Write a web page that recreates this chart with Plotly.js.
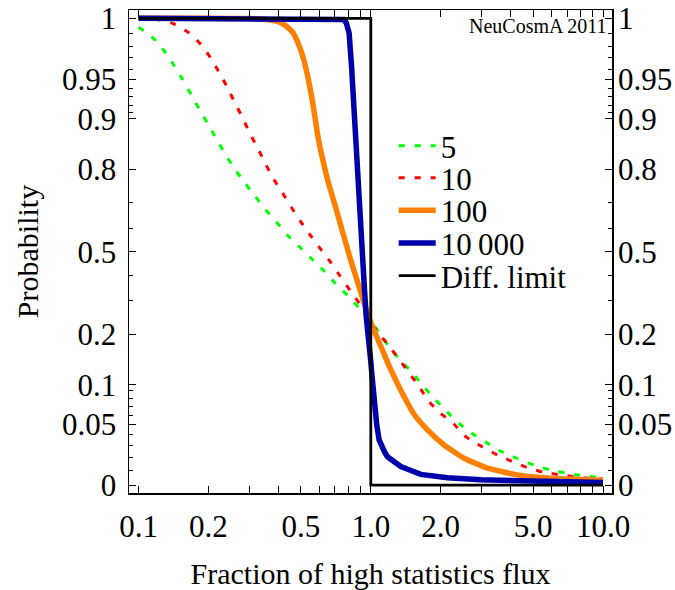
<!DOCTYPE html>
<html>
<head>
<meta charset="utf-8">
<script src="https://cdn.plot.ly/plotly-3.0.1.min.js"></script>
<style>html,body{margin:0;padding:0;background:#fff;}#chart{width:675px;height:590px;}</style>
</head>
<body>
<div id="chart"></div>
<script>
// ---------------- data ----------------
const X_N5 = [0.1, 0.116, 0.129, 0.1415, 0.1546, 0.168, 0.1824, 0.1993, 0.2167, 0.236, 0.258, 0.285, 0.3167, 0.3507, 0.391, 0.4378, 0.491, 0.5516, 0.626, 0.702, 0.794, 0.890, 1.0, 1.1, 1.2, 1.346, 1.512, 1.686, 1.886, 2.124, 2.392, 2.721, 3.135, 3.627, 4.25, 5.05, 5.955, 7.03, 8.28, 10];
const P_N5 = [0.994, 0.986, 0.976, 0.964, 0.950, 0.933, 0.915, 0.890, 0.863, 0.833, 0.803, 0.764, 0.723, 0.676, 0.628, 0.571, 0.523, 0.473, 0.419, 0.367, 0.319, 0.276, 0.235, 0.200, 0.172, 0.144, 0.121, 0.097, 0.079, 0.064, 0.051, 0.041, 0.033, 0.025, 0.019, 0.0138, 0.0103, 0.0080, 0.0062, 0.0048];

const X_N10 = [0.1, 0.12, 0.14, 0.1652, 0.1854, 0.2048, 0.2223, 0.2416, 0.2598, 0.2803, 0.3013, 0.3252, 0.3522, 0.3812, 0.4169, 0.4556, 0.4995, 0.5516, 0.6092, 0.673, 0.7375, 0.8146, 0.890, 1.0, 1.086, 1.199, 1.329, 1.462, 1.614, 1.782, 2.001, 2.284, 2.565, 2.976, 3.511, 4.07, 4.727, 5.57, 6.574, 7.76, 9.15, 10];
const P_N10 = [0.9999, 0.9992, 0.9966, 0.990, 0.9815, 0.9695, 0.957, 0.9407, 0.9229, 0.9016, 0.874, 0.8458, 0.8127, 0.774, 0.7314, 0.6827, 0.6268, 0.5684, 0.5103, 0.453, 0.396, 0.3376, 0.2918, 0.232, 0.201, 0.173, 0.1457, 0.121, 0.097, 0.076, 0.062, 0.0498, 0.0378, 0.0297, 0.0218, 0.0165, 0.012, 0.0087, 0.0069, 0.0053, 0.0044, 0.0041];

const X_N100 = [0.1, 0.2, 0.3, 0.3532, 0.390, 0.4234, 0.4602, 0.491, 0.516, 0.537, 0.561, 0.5756, 0.5929, 0.6197, 0.651, 0.691, 0.7375, 0.7674, 0.7985, 0.820, 0.890, 0.968, 1.017, 1.104, 1.219, 1.346, 1.536, 1.754, 2.068, 2.52, 3.18, 4.28, 5.96, 8.0, 10];
const P_N100 = [1, 1, 0.9998, 0.9992, 0.9982, 0.9958, 0.9907, 0.9806, 0.9671, 0.9513, 0.9245, 0.901, 0.866, 0.824, 0.772, 0.7085, 0.6215, 0.5628, 0.503, 0.4624, 0.353, 0.260, 0.2195, 0.173, 0.127, 0.091, 0.061, 0.0442, 0.0306, 0.0191, 0.0116, 0.0069, 0.0046, 0.0038, 0.0033];

const X_N10000 = [0.1, 0.5, 0.7, 0.765, 0.7845, 0.8065, 0.8266, 0.8424, 0.8557, 0.8663, 0.8817, 0.9031, 0.912, 0.9395, 0.956, 0.9754, 1.0, 1.012, 1.040, 1.061, 1.086, 1.115, 1.149, 1.18, 1.244, 1.346, 1.641, 2.139, 2.976, 5.39, 10];
const P_N10000 = [1, 1, 0.99999, 0.9992, 0.9968, 0.990, 0.962, 0.926, 0.873, 0.830, 0.7085, 0.550, 0.507, 0.340, 0.249, 0.177, 0.142, 0.116, 0.070, 0.0491, 0.035, 0.0284, 0.024, 0.0203, 0.0167, 0.0128, 0.0072, 0.0050, 0.0036, 0.0024, 0.0017];

const X_DIFF = [0.1, 1, 1, 10];
const P_DIFF = [1, 1, 0, 0];

const SERIES_NAMES = ['5', '10', '100', '10\u2009000', 'Diff. limit'];

const X_TICKS = [0.1, 0.2, 0.5, 1, 2, 5, 10];
const X_TICK_LABELS = ['0.1', '0.2', '0.5', '1.0', '2.0', '5.0', '10.0'];
const X_MINOR = [0.3, 0.4, 0.6, 0.7, 0.8, 0.9, 3, 4, 6, 7, 8, 9];

const Y_TICKS = [0, 0.05, 0.1, 0.2, 0.5, 0.8, 0.9, 0.95, 1];
const Y_TICK_LABELS = ['0', '0.05', '0.1', '0.2', '0.5', '0.8', '0.9', '0.95', '1'];
const Y_MINOR = [0.01, 0.02, 0.03, 0.04, 0.06, 0.07, 0.08, 0.09, 0.3, 0.4, 0.6, 0.7, 0.91, 0.92, 0.93, 0.94, 0.96, 0.97, 0.98, 0.99];

// ---------------- probability-axis scaling (symmetric about 0.5) ----------------
const SCALE_D = [0, 0.1, 0.2, 0.25, 0.3, 0.35, 0.4, 0.41, 0.42, 0.43, 0.44, 0.45, 0.46, 0.47, 0.48, 0.49, 0.5];
const SCALE_R = [0, 0.100, 0.210, 0.278, 0.353, 0.454, 0.570, 0.596, 0.628, 0.664, 0.700, 0.7385, 0.782, 0.831, 0.880, 0.937, 1];

function pchip(xs, ys) {
  const n = xs.length, h = [], d = [], m = new Array(n);
  for (let i = 0; i < n - 1; i++) { h.push(xs[i+1] - xs[i]); d.push((ys[i+1] - ys[i]) / h[i]); }
  m[0] = d[0]; m[n-1] = d[n-2];
  for (let i = 1; i < n - 1; i++) {
    if (d[i-1] * d[i] <= 0) { m[i] = 0; }
    else {
      const w1 = 2*h[i] + h[i-1], w2 = h[i] + 2*h[i-1];
      m[i] = (w1 + w2) / (w1 / d[i-1] + w2 / d[i]);
    }
  }
  return function (x) {
    if (x <= xs[0]) return ys[0];
    if (x >= xs[n-1]) return ys[n-1];
    let i = 0; while (x > xs[i+1]) i++;
    const t = (x - xs[i]) / h[i], t2 = t*t, t3 = t2*t;
    return (2*t3 - 3*t2 + 1) * ys[i] + (t3 - 2*t2 + t) * h[i] * m[i]
         + (-2*t3 + 3*t2) * ys[i+1] + (t3 - t2) * h[i] * m[i+1];
  };
}
const scaleFn = pchip(SCALE_D, SCALE_R);
function probScale(p) {
  const s = p - 0.5;
  return 0.5 + Math.sign(s) * scaleFn(Math.abs(s)) / 2;
}
const tr = arr => arr.map(probScale);

// ---------------- chart ----------------
const FONT = '"Liberation Serif", "Times New Roman", Times, serif';
const Y_RANGE = [-0.0169, 1.0178];

const traces = [
  {x: X_N5, y: tr(P_N5), name: SERIES_NAMES[0], mode: 'lines', line: {color: '#00ff00', width: 3, dash: '6px,10px', shape: 'spline', smoothing: 0.6}, legend: 'legend'},
  {x: X_N10, y: tr(P_N10), name: SERIES_NAMES[1], mode: 'lines', line: {color: '#ff0000', width: 3, dash: '6px,10px', shape: 'spline', smoothing: 0.6}, legend: 'legend2'},
  {x: X_N100, y: tr(P_N100), name: SERIES_NAMES[2], mode: 'lines', line: {color: '#ff8000', width: 5.5, shape: 'spline', smoothing: 0.4}, legend: 'legend3'},
  {x: X_N10000, y: tr(P_N10000), name: SERIES_NAMES[3], mode: 'lines', line: {color: '#0000aa', width: 5.5}, legend: 'legend4'},
  {x: X_DIFF, y: tr(P_DIFF), name: SERIES_NAMES[4], mode: 'lines', line: {color: '#000000', width: 2.8}, legend: 'legend5', yaxis: 'y2'}
];
traces.forEach(t => { t.hoverinfo = 'skip'; });

function legendAt(yPaper) {
  return {x: 0.548, y: yPaper, xanchor: 'left', yanchor: 'middle', bgcolor: 'rgba(0,0,0,0)',
          borderwidth: 0, font: {family: FONT, size: 31, color: '#000'}, itemwidth: 37};
}

const yCommon = {
  range: Y_RANGE, tickmode: 'array', tickvals: tr(Y_TICKS), ticktext: Y_TICK_LABELS,
  showgrid: false, zeroline: false, tickfont: {family: FONT, size: 31, color: '#000'}
};

const layout = {
  width: 675, height: 590,
  margin: {l: 129, r: 63, t: 10, b: 97, pad: 0},
  paper_bgcolor: '#fff', plot_bgcolor: '#fff',
  font: {family: FONT, size: 31, color: '#000'},
  showlegend: true,
  legend: legendAt(0.7184),
  legend2: legendAt(0.6522),
  legend3: legendAt(0.5845),
  legend4: legendAt(0.5170),
  legend5: legendAt(0.4493),
  xaxis: {
    type: 'log', range: [-1.0413, 1.0387],
    tickmode: 'array', tickvals: X_TICKS, ticktext: X_TICK_LABELS,
    ticks: 'inside', ticklen: 7, tickwidth: 1, tickcolor: '#000',
    showline: true, linecolor: '#000', linewidth: 1.5, mirror: 'allticks',
    showgrid: false, zeroline: false,
    minor: {tickmode: 'array', tickvals: X_MINOR, ticks: 'inside', ticklen: 4, tickwidth: 1, tickcolor: '#000', showgrid: false},
    tickfont: {family: FONT, size: 31, color: '#000'},
    ticklabelstandoff: 5,
    title: {text: 'Fraction of high statistics flux', font: {family: FONT, size: 30, color: '#000'}, standoff: 22}
  },
  yaxis: Object.assign({}, yCommon, {
    ticks: 'inside', ticklen: 7, tickwidth: 1, tickcolor: '#000',
    showline: true, linecolor: '#000', linewidth: 1.5, mirror: 'allticks',
    minor: {tickmode: 'array', tickvals: tr(Y_MINOR), ticks: 'inside', ticklen: 4, tickwidth: 1, tickcolor: '#000', showgrid: false},
    ticklabelstandoff: 5,
    title: {text: 'Probability', font: {family: FONT, size: 30, color: '#000'}, standoff: 14}
  }),
  yaxis2: Object.assign({}, yCommon, {
    overlaying: 'y', side: 'right', anchor: 'x', ticks: '', showline: false,
    ticklabelstandoff: 5
  }),
  annotations: [{
    text: 'NeuCosmA 2011', xref: 'paper', yref: 'paper', x: 0.993, y: 0.967,
    xanchor: 'right', yanchor: 'middle', showarrow: false,
    font: {family: FONT, size: 20, color: '#000'}
  }]
};

Plotly.newPlot('chart', traces, layout, {displayModeBar: false, staticPlot: true});
</script>
</body>
</html>
